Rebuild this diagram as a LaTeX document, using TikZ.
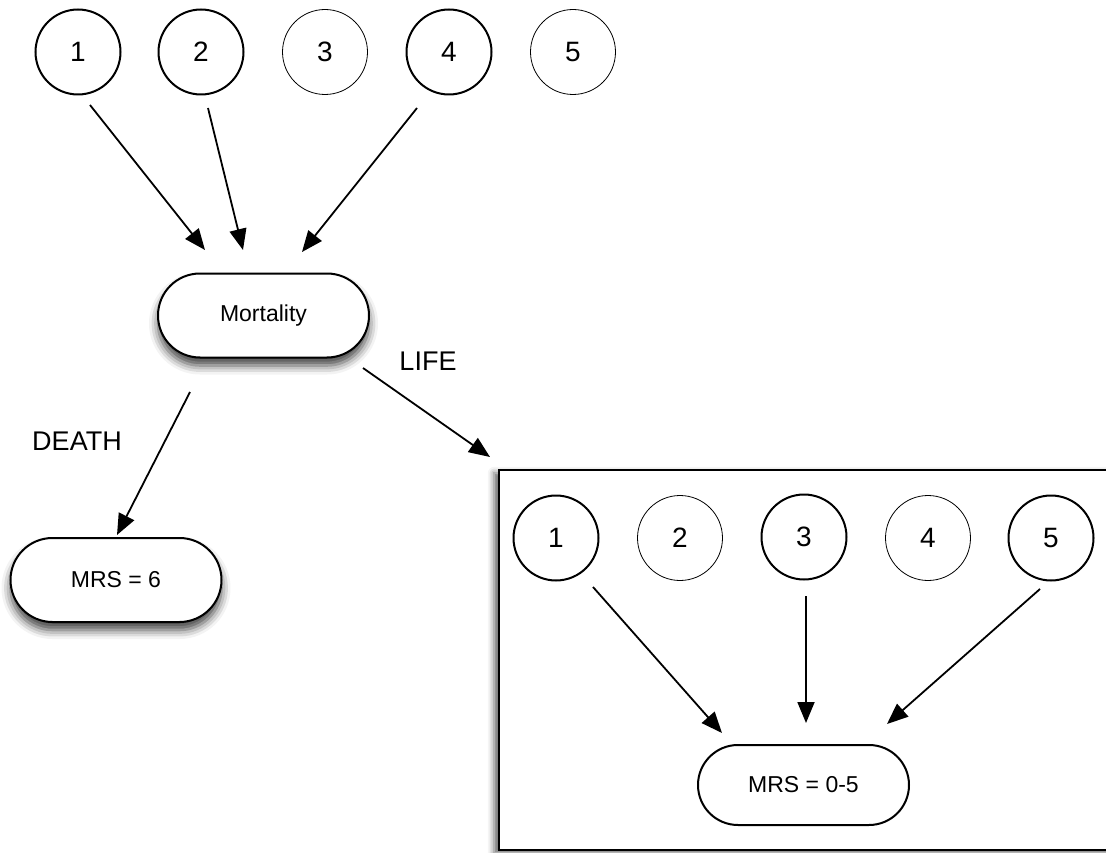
\documentclass[tikz,border=0pt]{standalone}
\usepackage{fontspec}
\setmainfont{Liberation Sans}
\usetikzlibrary{shapes.misc,arrows.meta,shadows.blur}
\begin{document}
\begin{tikzpicture}[x=1pt,y=-1pt,
  numthick/.style={circle,draw,line width=2pt,minimum size=85pt,inner sep=0pt,font=\fontsize{28}{32}\selectfont},
  numthin/.style={circle,draw,line width=0.8pt,minimum size=85pt,inner sep=0pt,font=\fontsize{28}{32}\selectfont},
  stadium/.style={rounded rectangle,draw,line width=2pt,fill=white,minimum width=211pt,minimum height=84pt,inner sep=0pt,font=\fontsize{23}{27}\selectfont},
  softshadow/.style={blur shadow={shadow xshift=0pt,shadow yshift=-8pt,shadow blur radius=9pt,shadow opacity=75}},
  arr/.style={-{Triangle[length=21pt,width=17pt]},line width=1.8pt},
  lab/.style={font=\fontsize{27}{30}\selectfont,inner sep=0pt}]
\useasboundingbox (0,0) rectangle (1106,853);
\clip (0,0) rectangle (1106,853);
% panel
\node[draw,line width=1.8pt,fill=white,minimum width=640pt,minimum height=380pt,anchor=north west,inner sep=0pt,
  blur shadow={shadow xshift=-5pt,shadow yshift=-3pt,shadow blur radius=6pt,shadow opacity=60}] (panel) at (498,469) {};
% top circles
\node[numthick] (a1) at (78,52) {1};
\node[numthick] (a2) at (201,52) {2};
\node[numthin]  (a3) at (325,52) {3};
\node[numthick] (a4) at (449,52) {4};
\node[numthin]  (a5) at (573,52) {5};
% mortality
\node[stadium,softshadow] (mort) at (263.5,315.5) {Mortality};
\node[stadium,softshadow] (mrs6) at (116,580) {MRS = 6};
% inner circles
\node[numthick] (b1) at (556,538) {1};
\node[numthin]  (b2) at (680,538) {2};
\node[numthick] (b3) at (804,537) {3};
\node[numthin]  (b4) at (928,538) {4};
\node[numthick] (b5) at (1051,538) {5};
\node[stadium,minimum height=80pt] (mrs05) at (803.5,785) {MRS = 0-5};
% labels
\node[lab] (death) at (77,441) {DEATH};
\node[lab] (life) at (428,361) {LIFE};
% connector end points
\coordinate (t1s) at (90,105);  \coordinate (t1e) at (205,250);
\coordinate (t2s) at (208,108); \coordinate (t2e) at (243,250);
\coordinate (t4s) at (417,108); \coordinate (t4e) at (302,252);
\coordinate (ds) at (190,392);  \coordinate (de) at (117,535);
\coordinate (ls) at (363,368);  \coordinate (le) at (490,457);
\coordinate (i1s) at (593,587); \coordinate (i1e) at (722,733);
\coordinate (i3s) at (806,596); \coordinate (i3e) at (806,723);
\coordinate (i5s) at (1040,589);\coordinate (i5e) at (887,724);
\draw[arr] (t1s) -- (t1e);
\draw[arr] (t2s) -- (t2e);
\draw[arr] (t4s) -- (t4e);
\draw[arr] (ds) -- (de);
\draw[arr] (ls) -- (le);
\draw[arr] (i1s) -- (i1e);
\draw[arr] (i3s) -- (i3e);
\draw[arr] (i5s) -- (i5e);
\end{tikzpicture}
\end{document}
